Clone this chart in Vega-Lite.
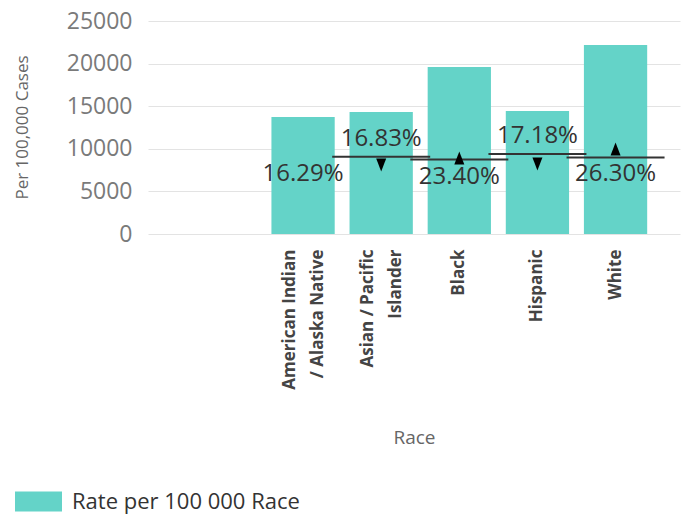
{
  "$schema": "https://vega.github.io/schema/vega-lite/v6.json",
  "width": 532,
  "height": 213,
  "autosize": "none",
  "padding": {"left": 148, "top": 21, "right": 4, "bottom": 280},
  "config": {
    "font": "Open Sans",
    "view": {"stroke": null},
    "axis": {"domain": false, "ticks": false}
  },
  "data": {
    "values": [
      {"Race": "American Indian / Alaska Native", "Rate": 13730, "Line": 8980, "Marker": null, "Change": null, "Side": "below", "Pct": "16.29%"},
      {"Race": "Asian / Pacific Islander", "Rate": 14320, "Line": 9070, "Marker": 8100, "Change": "Down", "Side": "above", "Pct": "16.83%"},
      {"Race": "Black", "Rate": 19600, "Line": 8740, "Marker": 8920, "Change": "Up", "Side": "below", "Pct": "23.40%"},
      {"Race": "Hispanic", "Rate": 14440, "Line": 9390, "Marker": 8220, "Change": "Down", "Side": "above", "Pct": "17.18%"},
      {"Race": "White", "Rate": 22180, "Line": 8980, "Marker": 9980, "Change": "Up", "Side": "below", "Pct": "26.30%"}
    ]
  },
  "encoding": {
    "x": {
      "field": "Race",
      "type": "nominal",
      "sort": null,
      "scale": {"paddingInner": 0.19, "paddingOuter": 1.01, "align": 0.79},
      "axis": {
        "title": "Race",
        "labelAngle": -90,
        "labelPadding": 15,
        "labelFontSize": 17,
        "labelFontWeight": "bold",
        "labelColor": "#444444",
        "labelLineHeight": 28,
        "labelLimit": 300,
        "labelOffset": {"condition": {"test": "indexof(datum.value, '/') >= 0", "value": -13}, "value": 0},
        "labelExpr": "datum.label == 'American Indian / Alaska Native' ? ['American Indian', '/ Alaska Native'] : datum.label == 'Asian / Pacific Islander' ? ['Asian / Pacific', 'Islander'] : datum.label",
        "titleFontSize": 19,
        "titleFontWeight": "normal",
        "titleColor": "#666666",
        "titleY": 203,
        "titleBaseline": "middle"
      }
    }
  },
  "layer": [
    {
      "mark": {"type": "bar", "color": "#64d3c8"},
      "encoding": {
        "y": {
          "field": "Rate",
          "type": "quantitative",
          "title": "Per 100,000 Cases",
          "scale": {"domain": [0, 25000], "nice": false},
          "axis": {
            "values": [0, 5000, 10000, 15000, 20000, 25000],
            "format": "d",
            "grid": true,
            "gridColor": "#e3e3e3",
            "labelFontSize": 23,
            "labelColor": "#7a7a7a",
            "labelPadding": 16,
            "titleFontSize": 17,
            "titleFontWeight": "normal",
            "titleColor": "#666666",
            "titleX": -126,
            "titleY": 106,
            "titleAlign": "center",
            "titleBaseline": "middle",
            "titleAngle": -90
          }
        },
        "color": {
          "datum": "Rate per 100 000 Race",
          "scale": {"range": ["#64d3c8"]},
          "legend": {
            "title": null,
            "orient": "none",
            "legendX": -133,
            "legendY": 457,
            "padding": 0,
            "symbolType": "M-1,-0.43L1,-0.43L1,0.43L-1,0.43Z",
            "symbolSize": 2209,
            "symbolStrokeWidth": 0,
            "symbolOpacity": 1,
            "labelFontSize": 22,
            "labelLimit": 400,
            "labelColor": "#333333",
            "labelOffset": 10
          }
        }
      }
    },
    {
      "transform": [{"filter": "datum.Change != null"}],
      "mark": {"type": "tick", "color": "#333333", "size": 98, "thickness": 2, "opacity": 1},
      "encoding": {
        "y": {"field": "Line", "type": "quantitative", "title": "Per 100,000 Cases"}
      }
    },
    {
      "transform": [{"filter": "datum.Change != null"}],
      "mark": {"type": "point", "filled": true, "color": "#000000", "opacity": 1, "size": 100},
      "encoding": {
        "y": {"field": "Marker", "type": "quantitative", "title": "Per 100,000 Cases"},
        "shape": {
          "field": "Change",
          "type": "nominal",
          "scale": {"domain": ["Up", "Down"], "range": ["M0,-1.3L1,1.3L-1,1.3Z", "M0,1.3L1,-1.3L-1,-1.3Z"]},
          "legend": null
        }
      }
    },
    {
      "transform": [{"filter": "datum.Side == 'above'"}],
      "mark": {"type": "text", "fontSize": 24, "color": "#333333", "dy": -18, "baseline": "middle"},
      "encoding": {
        "y": {"field": "Line", "type": "quantitative", "title": "Per 100,000 Cases"},
        "text": {"field": "Pct"}
      }
    },
    {
      "transform": [{"filter": "datum.Side == 'below'"}],
      "mark": {"type": "text", "fontSize": 24, "color": "#333333", "dy": 17, "baseline": "middle"},
      "encoding": {
        "y": {"field": "Line", "type": "quantitative", "title": "Per 100,000 Cases"},
        "text": {"field": "Pct"}
      }
    }
  ]
}
